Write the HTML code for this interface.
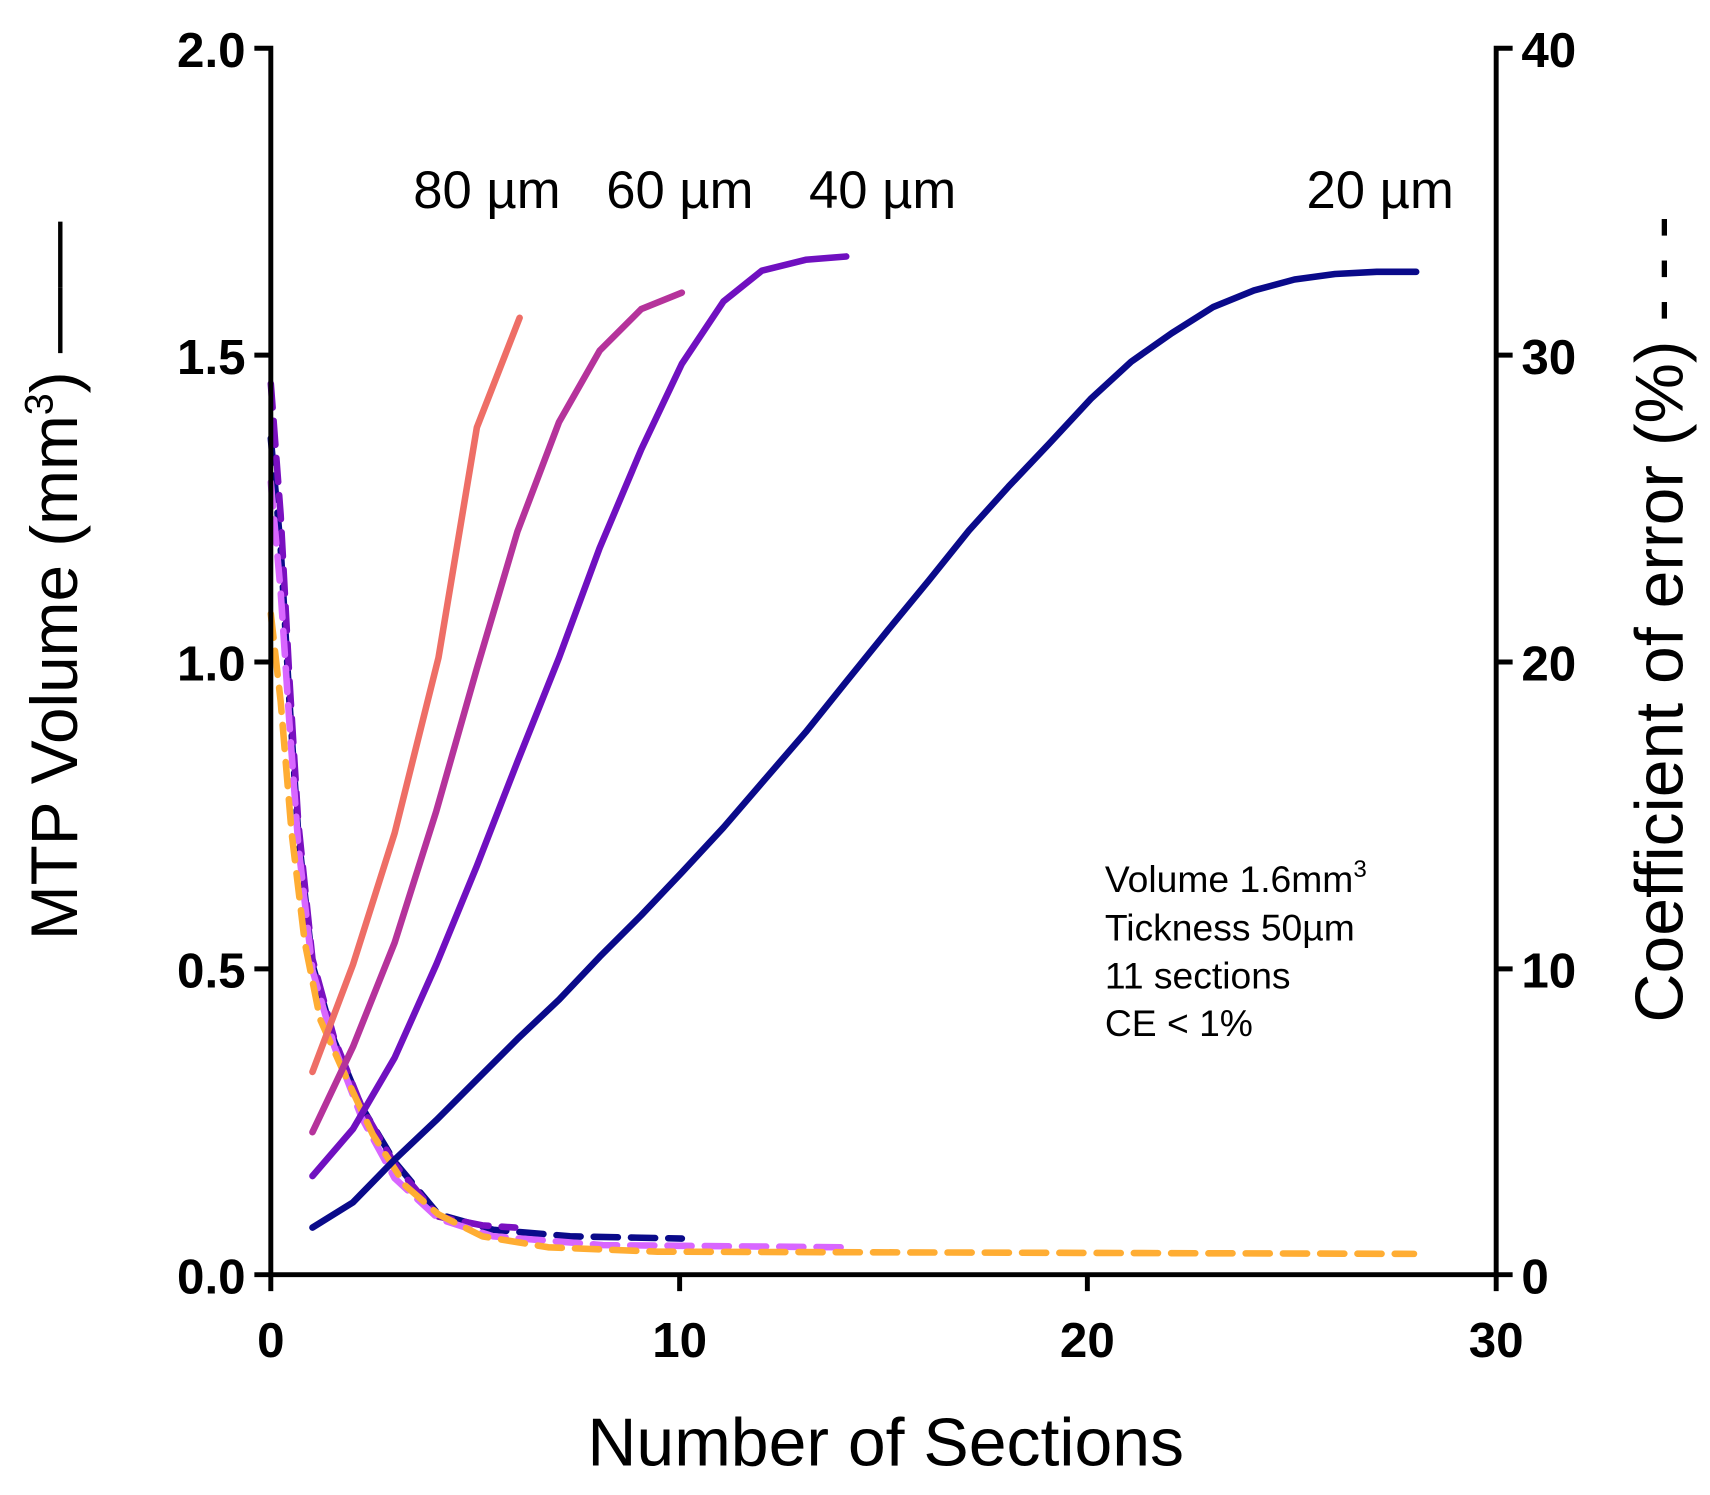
<!DOCTYPE html>
<html><head><meta charset="utf-8"><style>
html,body{margin:0;padding:0;background:#fff}
svg{display:block}
text{font-family:"Liberation Sans",Arial,sans-serif}
</style></head><body>
<svg width="1710" height="1495" viewBox="0 0 1560 1364" xmlns="http://www.w3.org/2000/svg">
<g fill="none" stroke-linecap="round" stroke-linejoin="round">
<polyline stroke="#0a0a8a" stroke-width="6" stroke-dasharray="22,12" points="247,400 256,500 264,640 272,760 285,880 305,950 330,1010 360,1060 400,1108 450,1122 520,1128 622,1130"/>
<polyline stroke="#7a10c0" stroke-width="6" stroke-dasharray="22,12" points="247,350 256,470 264,620 272,750 285,875 305,948 330,1010 360,1062 400,1110 440,1118 470,1120"/>
<polyline stroke="#d866ff" stroke-width="6" stroke-dasharray="22,12" points="247,440 256,540 264,660 272,770 285,885 305,955 330,1020 360,1075 400,1112 450,1128 550,1136 770,1138"/>
<polyline stroke="#ffad33" stroke-width="6" stroke-dasharray="22,12" points="247,560 256,640 266,760 278,860 292,930 312,975 340,1035 370,1082 400,1108 440,1128 500,1138 600,1142 1290,1144"/>
<polyline stroke="#ee6e66" stroke-width="6" points="285,978 322,880 360,760 400,600 435,390 474,290"/>
<polyline stroke="#b5339b" stroke-width="6" points="285,1033 322,955 360,860 398,740 435,610 472,485 510,385 547,320 585,282 622,267"/>
<polyline stroke="#7010c0" stroke-width="6" points="285,1073 322,1030 360,965 398,880 435,790 472,695 510,600 547,500 585,410 622,332 660,275 695,247 735,237 772,234"/>
<polyline stroke="#0a0a8a" stroke-width="6" points="285,1120 322,1097 360,1058 398,1022 435,985 472,948 510,912 547,873 585,835 622,796 660,755 697,712 735,668 772,622 810,575 847,530 884,484 920,444 957,405 995,364 1032,330 1069,304 1107,280 1144,265 1181,255 1218,250 1256,248 1292,248"/>
</g>
<g stroke="#000" stroke-width="4.5" fill="none">
<polyline points="232,44 247,44 247,1163 1365,1163 1365,44 1380,44"/>
<line x1="232" y1="324" x2="247" y2="324"/><line x1="232" y1="604" x2="247" y2="604"/><line x1="232" y1="884" x2="247" y2="884"/><line x1="232" y1="1163" x2="247" y2="1163"/>
<line x1="1365" y1="324" x2="1380" y2="324"/><line x1="1365" y1="604" x2="1380" y2="604"/><line x1="1365" y1="884" x2="1380" y2="884"/><line x1="1365" y1="1163" x2="1380" y2="1163"/>
<line x1="247" y1="1163" x2="247" y2="1178"/><line x1="620" y1="1163" x2="620" y2="1178"/><line x1="992" y1="1163" x2="992" y2="1178"/><line x1="1365" y1="1163" x2="1365" y2="1178"/>
</g>
<g font-size="45" font-weight="bold" fill="#000">
<text x="224" y="61" text-anchor="end">2.0</text>
<text x="224" y="341" text-anchor="end">1.5</text>
<text x="224" y="621" text-anchor="end">1.0</text>
<text x="224" y="901" text-anchor="end">0.5</text>
<text x="224" y="1180" text-anchor="end">0.0</text>
<text x="1388" y="61">40</text>
<text x="1388" y="341">30</text>
<text x="1388" y="621">20</text>
<text x="1388" y="901">10</text>
<text x="1388" y="1180">0</text>
<text x="247" y="1238" text-anchor="middle">0</text>
<text x="620" y="1238" text-anchor="middle">10</text>
<text x="992" y="1238" text-anchor="middle">20</text>
<text x="1365" y="1238" text-anchor="middle">30</text>
</g>
<g font-size="48" fill="#000">
<text x="377" y="190">80 µm</text>
<text x="553" y="190">60 µm</text>
<text x="738" y="190">40 µm</text>
<text x="1192" y="190">20 µm</text>
</g>
<text x="808" y="1337" font-size="62" text-anchor="middle">Number of Sections</text>
<text transform="translate(70,530) rotate(-90)" font-size="60" text-anchor="middle">MTP Volume (mm<tspan font-size="36" dy="-22">3</tspan><tspan dy="22">) ——</tspan></text>
<text transform="translate(1535,565) rotate(-90)" font-size="62" text-anchor="middle">Coefficient of error (%) - - -</text>
<g font-size="34" fill="#000">
<text x="1008" y="814">Volume 1.6mm<tspan font-size="22" dy="-14">3</tspan></text>
<text x="1008" y="858">Tickness 50µm</text>
<text x="1008" y="902">11 sections</text>
<text x="1008" y="945">CE &lt; 1%</text>
</g>
</svg>
</body></html>
